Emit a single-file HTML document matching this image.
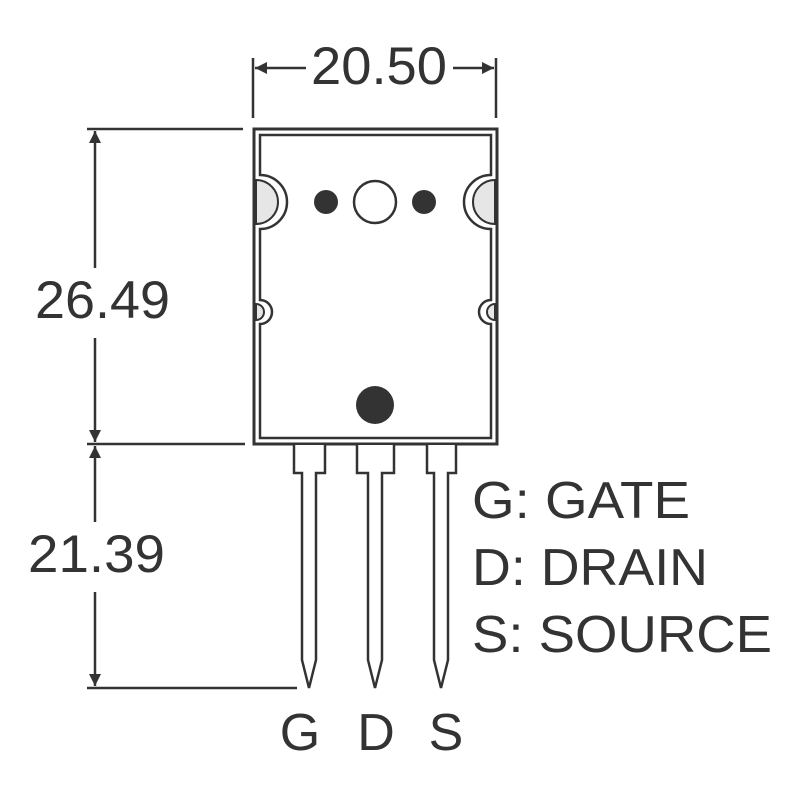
<!DOCTYPE html>
<html><head><style>
html,body{margin:0;padding:0;background:#fff;}
svg{display:block;}
text{font-family:"Liberation Sans",Arial,sans-serif;fill:#333;}
</style></head><body>
<svg width="800" height="800" viewBox="0 0 800 800" xmlns="http://www.w3.org/2000/svg">
<defs>
<marker id="a" viewBox="0 0 10 10" refX="10" refY="5" markerWidth="12" markerHeight="12" markerUnits="userSpaceOnUse" orient="auto-start-reverse"><path d="M0,0 L10,5 L0,10 z" fill="#333"/></marker>
</defs>
<g stroke="#333" stroke-width="2.5" fill="none">
<line x1="253" y1="58" x2="253" y2="118"/>
<line x1="496" y1="58" x2="496" y2="118"/>
<line x1="255" y1="68" x2="306" y2="68" marker-start="url(#a)"/>
<line x1="453" y1="68" x2="494" y2="68" marker-end="url(#a)"/>
<line x1="87" y1="129" x2="243" y2="129"/>
<line x1="87" y1="444" x2="245" y2="444"/>
<line x1="87" y1="688" x2="297" y2="688"/>
<line x1="95" y1="131" x2="95" y2="268" marker-start="url(#a)"/>
<line x1="95" y1="338" x2="95" y2="442" marker-end="url(#a)"/>
<line x1="95" y1="446" x2="95" y2="522" marker-start="url(#a)"/>
<line x1="95" y1="592" x2="95" y2="686" marker-end="url(#a)"/>
</g>
<g stroke="#333" fill="none">
<rect x="254" y="129" width="243" height="315" stroke-width="3"/>
<path d="M260,135 H491 V175 A27,27 0 0 0 491,229 V300 A12,12 0 0 0 491,324 V438 H260 V324 A12,12 0 0 0 260,300 V229 A27,27 0 0 0 260,175 Z" stroke-width="2.5" fill="#fff"/>
<path d="M256,180 A22,22 0 0 1 256,224 Z" fill="#e6e6e6" stroke-width="2"/>
<path d="M495,180 A22,22 0 0 0 495,224 Z" fill="#e6e6e6" stroke-width="2"/>
<path d="M256,304 A8,8 0 0 1 256,320 Z" fill="#e6e6e6" stroke-width="2"/>
<path d="M495,304 A8,8 0 0 0 495,320 Z" fill="#e6e6e6" stroke-width="2"/>
</g>
<circle cx="326" cy="202" r="12" fill="#333"/>
<circle cx="375" cy="202" r="21" fill="#fff" stroke="#333" stroke-width="2.5"/>
<circle cx="424" cy="202" r="12" fill="#333"/>
<circle cx="375" cy="405" r="19" fill="#333"/>
<g stroke="#333" stroke-width="2.5" fill="#fff">
<path d="M294,445 V473 H302 V660 L309,688 L316,660 V473 H325 V445"/>
<path d="M357,445 V473 H368 V660 L375,688 L382,660 V473 H394 V445"/>
<path d="M427,445 V473 H434 V660 L441,688 L448,660 V473 H456 V445"/>
</g>
<g font-size="53">
<text x="311" y="84" textLength="136" lengthAdjust="spacingAndGlyphs">20.50</text>
<text x="35" y="318" textLength="135" lengthAdjust="spacingAndGlyphs">26.49</text>
<text x="28" y="572" textLength="137" lengthAdjust="spacingAndGlyphs">21.39</text>
</g>
<g font-size="52">
<text x="472" y="518" textLength="218" lengthAdjust="spacingAndGlyphs">G: GATE</text>
<text x="472" y="585" textLength="236" lengthAdjust="spacingAndGlyphs">D: DRAIN</text>
<text x="472" y="652" textLength="300" lengthAdjust="spacingAndGlyphs">S: SOURCE</text>
<text x="300" y="750" text-anchor="middle">G</text>
<text x="376" y="750" text-anchor="middle">D</text>
<text x="446" y="750" text-anchor="middle">S</text>
</g>
</svg>
</body></html>
